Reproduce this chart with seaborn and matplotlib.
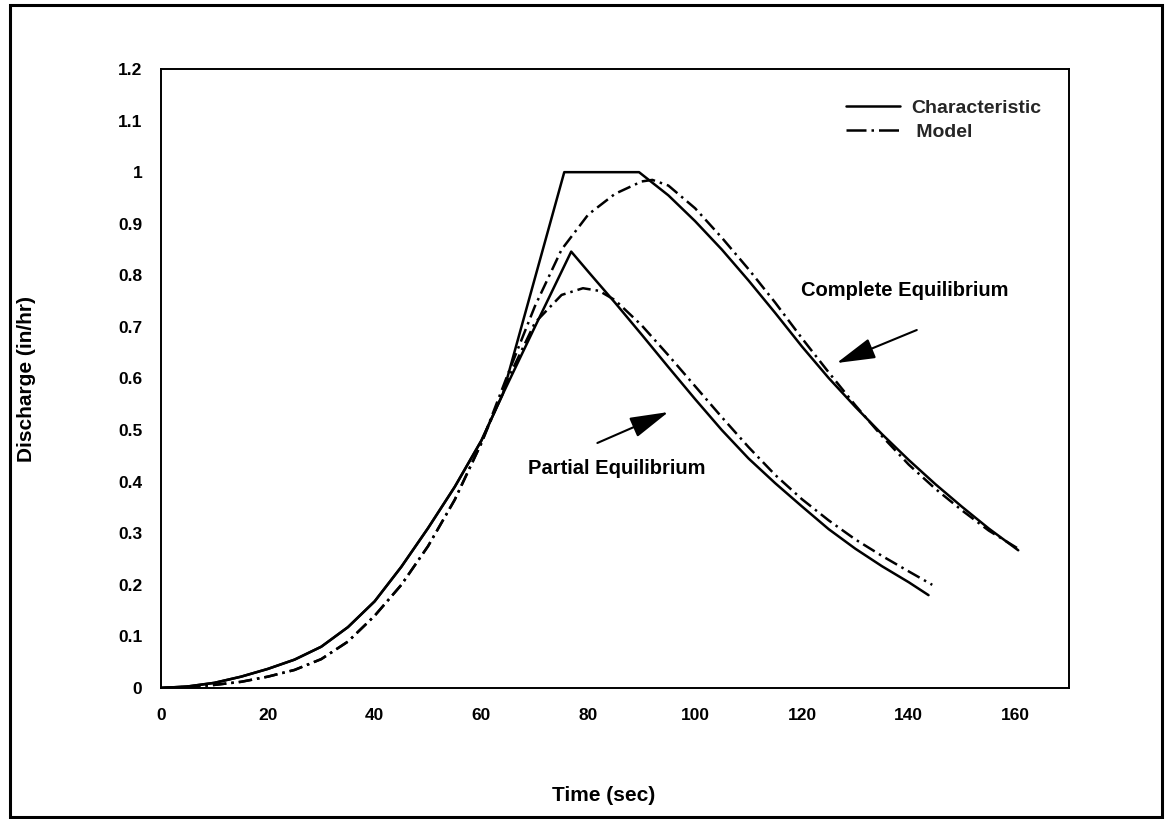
import numpy as np
import pandas as pd
import matplotlib
matplotlib.use("Agg")
import matplotlib.pyplot as plt
from matplotlib.patches import Rectangle
from matplotlib.lines import Line2D
from matplotlib.ticker import MultipleLocator, FuncFormatter
import seaborn as sns

# ---------------- data ----------------
t_char_complete = [0, 5, 10, 15, 20, 25, 30, 35, 40, 45, 50, 55, 60, 64, 75.5, 89.5,
                   95, 100, 105, 110, 115, 120, 125, 130, 135, 140, 145, 150, 155, 160.5]
q_char_complete = [0, 0.003, 0.010, 0.022, 0.037, 0.055, 0.08, 0.118, 0.168, 0.235, 0.31, 0.39, 0.48, 0.57, 1.0, 1.0,
                   0.955, 0.905, 0.85, 0.79, 0.727, 0.662, 0.601, 0.545, 0.492, 0.442, 0.395, 0.351, 0.309, 0.267]

t_char_partial = [0, 5, 10, 15, 20, 25, 30, 35, 40, 45, 50, 55, 60, 64, 70, 76.8,
                  80, 85, 90, 95, 100, 105, 110, 115, 120, 125, 130, 135, 140, 143.7]
q_char_partial = [0, 0.003, 0.010, 0.022, 0.037, 0.055, 0.08, 0.118, 0.168, 0.235, 0.31, 0.39, 0.48, 0.57, 0.70, 0.846,
                  0.807, 0.747, 0.685, 0.622, 0.56, 0.5, 0.445, 0.397, 0.352, 0.308, 0.27, 0.236, 0.205, 0.18]

t_model_complete = [0, 5, 10, 15, 20, 25, 30, 35, 40, 45, 50, 55, 60, 65, 70, 75, 80, 85, 90, 92,
                    95, 100, 105, 110, 115, 120, 125, 130, 135, 140, 145, 150, 155, 160.5]
q_model_complete = [0, 0.002, 0.006, 0.012, 0.022, 0.035, 0.056, 0.09, 0.14, 0.2, 0.275, 0.365, 0.475, 0.61, 0.74, 0.85, 0.918, 0.958, 0.982, 0.985,
                    0.974, 0.93, 0.873, 0.812, 0.747, 0.678, 0.612, 0.548, 0.488, 0.433, 0.386, 0.344, 0.305, 0.27]

t_model_partial = [0, 5, 10, 15, 20, 25, 30, 35, 40, 45, 50, 55, 60, 65, 70, 75, 79, 82,
                   85, 90, 95, 100, 105, 110, 115, 120, 125, 130, 135, 140, 144.4]
q_model_partial = [0, 0.002, 0.006, 0.012, 0.022, 0.035, 0.056, 0.09, 0.14, 0.2, 0.275, 0.365, 0.475, 0.6, 0.708, 0.762, 0.775, 0.77,
                   0.752, 0.703, 0.645, 0.585, 0.525, 0.467, 0.413, 0.366, 0.325, 0.288, 0.256, 0.226, 0.2]

y_ticks = [0, 0.1, 0.2, 0.3, 0.4, 0.5, 0.6, 0.7, 0.8, 0.9, 1.0, 1.1, 1.2]
x_ticks = [0, 20, 40, 60, 80, 100, 120, 140, 160]

legend_labels = ["Characteristic", " Model"]
annot_partial = "Partial Equilibrium"
annot_complete = "Complete Equilibrium"

# ---------------- style ----------------
sns.set_style("white")
plt.rcParams["font.family"] = ["Liberation Sans", "DejaVu Sans"]
plt.rcParams["font.weight"] = "bold"
plt.rcParams["axes.labelweight"] = "bold"

W, H = 1167, 819
fig = plt.figure(figsize=(W / 100, H / 100), dpi=100)
fig.patch.set_facecolor("white")

ax = fig.add_axes([161 / W, 1 - 688 / H, (1069 - 161) / W, (688 - 69) / H])
ax.set_facecolor("white")

dashdot = (0, (5.4, 2.0, 1.0, 2.0))
lw = 1.8

sns.lineplot(x=t_char_complete, y=q_char_complete, ax=ax, color="black", lw=lw,
             sort=False, estimator=None, legend=False)
sns.lineplot(x=t_model_complete, y=q_model_complete, ax=ax, color="black", lw=lw,
             linestyle=dashdot, sort=False, estimator=None, legend=False)
sns.lineplot(x=t_char_partial, y=q_char_partial, ax=ax, color="black", lw=lw,
             sort=False, estimator=None, legend=False)
sns.lineplot(x=t_model_partial, y=q_model_partial, ax=ax, color="black", lw=lw,
             linestyle=dashdot, sort=False, estimator=None, legend=False)

ax.set_xlim(0, 170)
ax.set_ylim(0, 1.2)
ax.xaxis.set_major_locator(MultipleLocator(20))
ax.xaxis.set_minor_locator(MultipleLocator(10))
ax.set_xticks(x_ticks)
ax.set_yticks(y_ticks)
ax.yaxis.set_major_formatter(FuncFormatter(lambda v, p: f"{v:g}"))

for s in ax.spines.values():
    s.set_visible(True)
    s.set_color("black")
    s.set_linewidth(1.4)

ax.tick_params(axis="both", which="both", direction="out", length=7.5, width=1.2,
               color="black", labelsize=12.5, labelcolor="black")
ax.tick_params(axis="y", pad=6)
ax.tick_params(axis="x", pad=7)
for lab in ax.get_xticklabels() + ax.get_yticklabels():
    lab.set_fontweight("bold")

ax.set_xlabel("Time (sec)", fontsize=15, fontweight="bold", color="black")
ax.set_ylabel("Discharge (in/hr)", fontsize=15, fontweight="bold", color="black")
ax.xaxis.set_label_coords((604 - 161) / (1069 - 161), -(786 - 688) / (688 - 69))
ax.yaxis.set_label_coords(-(161 - 36) / (1069 - 161), 0.5)

# legend (handles mirror the plotted line styles)
handles = [Line2D([], [], color="black", lw=lw),
           Line2D([], [], color="black", lw=lw, linestyle=(0, (8.0, 2.0, 1.0, 2.0)))]
leg = ax.legend(handles, legend_labels, loc="upper left",
                bbox_to_anchor=(846 / W, 1 - 99 / H), bbox_transform=fig.transFigure,
                frameon=False, fontsize=14, handlelength=2.8, handletextpad=0.55,
                labelspacing=0.35, borderpad=0, borderaxespad=0)
for txt in leg.get_texts():
    txt.set_fontweight("bold")

# annotations (arrows + text)
arrow_kw = dict(arrowstyle="-|>,head_length=2.4,head_width=0.65", color="black",
                lw=1.5, shrinkA=0, shrinkB=0)
ax.annotate("", xy=(95.0, 0.535), xytext=(81.7, 0.475), arrowprops=arrow_kw)
ax.annotate("", xy=(126.5, 0.63), xytext=(141.5, 0.694), arrowprops=arrow_kw)
ax.text(85.4, 0.426, annot_partial, ha="center", va="center", fontsize=14.5,
        fontweight="bold", color="black")
ax.text(139.3, 0.771, annot_complete, ha="center", va="center", fontsize=14.5,
        fontweight="bold", color="black")

# outer frame
fig.add_artist(Rectangle((10 / W, 1 - 817 / H), (1162 - 10) / W, (817 - 5) / H,
                         transform=fig.transFigure, fill=False, edgecolor="black", lw=2.2))

fig.savefig("out.png", dpi=100, facecolor="white")
